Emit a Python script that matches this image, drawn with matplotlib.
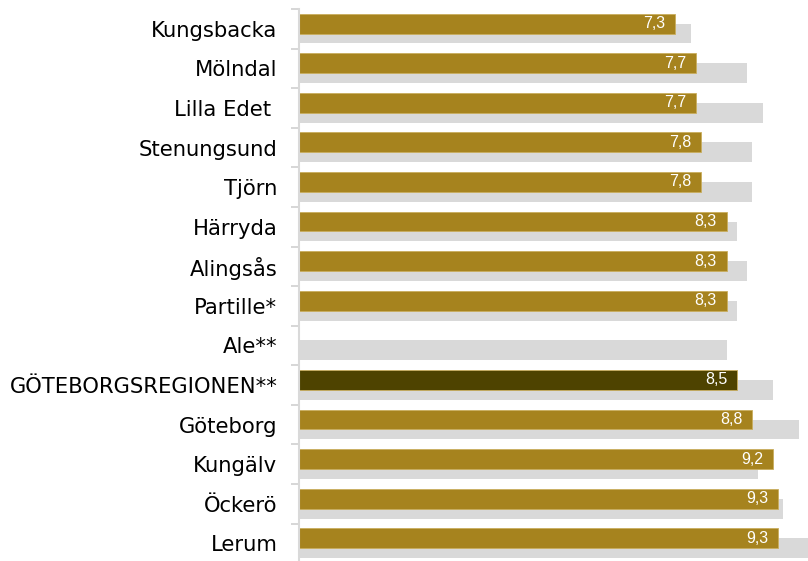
import matplotlib.pyplot as plt
import numpy as np

kommuner = ["Kungsbacka", "Mölndal", "Lilla Edet ", "Stenungsund", "Tjörn", "Härryda",
            "Alingsås", "Partille*", "Ale**", "GÖTEBORGSREGIONEN**", "Göteborg",
            "Kungälv", "Öckerö", "Lerum"]
varden_nu = [7.3, 7.7, 7.7, 7.8, 7.8, 8.3, 8.3, 8.3, np.nan, 8.5, 8.8, 9.2, 9.3, 9.3]
varden_fore = [7.6, 8.7, 9.0, 8.8, 8.8, 8.5, 8.7, 8.5, 8.3, 9.2, 9.7, 8.9, 9.4, 10.0]

guld = "#A6831E"
mork = "#4E4300"
gra = "#D9D9D9"

fig = plt.figure(figsize=(8.08, 5.61), dpi=100)
ax = fig.add_axes([0.37, -0.004, 0.63, 0.988])

y = np.arange(len(kommuner))
farger = [mork if k.startswith("GÖTEBORGSREGIONEN") else guld for k in kommuner]

ax.barh(y + 0.12, varden_fore, height=0.5, color=gra, zorder=1)
ax.barh(y - 0.13, varden_nu, height=0.5, color=farger, edgecolor="#C9AE5E",
        linewidth=0.6, zorder=2)

for yi, v in zip(y, varden_nu):
    if np.isnan(v):
        continue
    ax.text(v - 0.19, yi - 0.13, f"{v:.1f}".replace(".", ","), color="white",
            ha="right", va="center", fontsize=11.5, fontfamily="Liberation Sans", zorder=3)

ax.set_xlim(0, 9.88)
ax.set_ylim(len(kommuner) - 0.5, -0.5)

ax.set_yticks(y)
ax.set_yticklabels(kommuner, fontsize=15.2, fontfamily="DejaVu Sans")
ax.set_yticks(np.arange(len(kommuner) + 1) - 0.5, minor=True)
ax.tick_params(axis="y", which="major", length=0, pad=15.5)
ax.tick_params(axis="y", which="minor", length=6, color="#D0D0D0", width=1.2)
ax.set_xticks([])

for s in ["top", "right", "bottom"]:
    ax.spines[s].set_visible(False)
ax.spines["left"].set_color("#D9D9D9")
ax.spines["left"].set_linewidth(1.5)

fig.savefig("out.png", dpi=100)
